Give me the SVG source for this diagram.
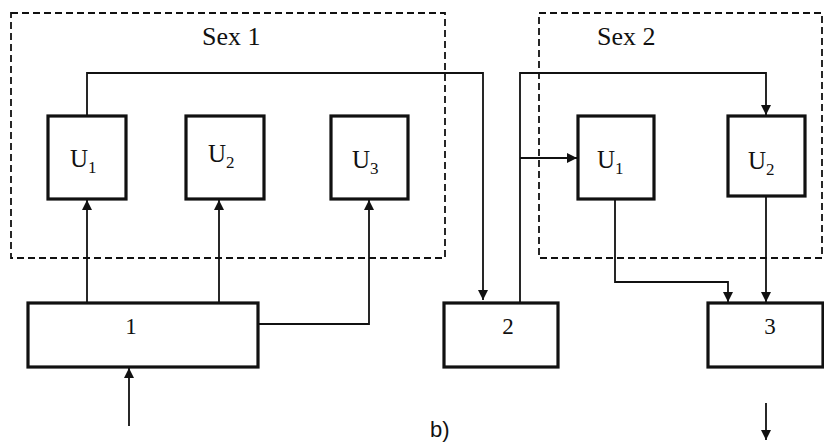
<svg xmlns="http://www.w3.org/2000/svg" width="824" height="445" viewBox="0 0 824 445">
<style>
.grp{fill:none;stroke:#111;stroke-width:1.8;stroke-dasharray:7,4}
.box{fill:#fff;stroke:#111;stroke-width:3.2}
.ln{fill:none;stroke:#111;stroke-width:1.8}
.t{font-family:"Liberation Serif","DejaVu Serif",serif;fill:#111}
.u{font-size:25px}
.s{font-size:17px}
.n{font-size:23px}
.g{font-size:26px}
</style>
<defs>
<marker id="ah" viewBox="0 0 10 10" refX="10" refY="5" markerWidth="11" markerHeight="10" markerUnits="userSpaceOnUse" orient="auto">
<path d="M0,0 L10,5 L0,10 z" fill="#111"/>
</marker>
</defs>
<rect width="824" height="445" fill="#fff"/>
<g id="sex1">
<rect class="grp" x="11" y="13" width="434" height="245"/>
<text class="t g" x="202" y="45">Sex 1</text>
</g>
<g id="sex2">
<rect class="grp" x="539" y="13" width="283" height="245"/>
<text class="t g" x="597" y="45">Sex 2</text>
</g>
<g id="connectors">
<path class="ln" d="M87,116 V73 H483 V300" marker-end="url(#ah)"/>
<path class="ln" d="M87,303 V200" marker-end="url(#ah)"/>
<path class="ln" d="M219,303 V200" marker-end="url(#ah)"/>
<path class="ln" d="M258,324 H369 V200" marker-end="url(#ah)"/>
<path class="ln" d="M129,426 V368" marker-end="url(#ah)"/>
<path class="ln" d="M520,303 V73 H766 V115" marker-end="url(#ah)"/>
<path class="ln" d="M520,158 H577" marker-end="url(#ah)"/>
<path class="ln" d="M615,199 V282 H728 V302" marker-end="url(#ah)"/>
<path class="ln" d="M766,196 V302" marker-end="url(#ah)"/>
<path class="ln" d="M766,403 V440" marker-end="url(#ah)"/>
</g>
<g id="s1u1">
<rect class="box" x="48" y="116" width="78" height="83"/>
<text class="t u" x="70" y="167">U<tspan class="s" dy="6">1</tspan></text>
</g>
<g id="s1u2">
<rect class="box" x="186" y="116" width="78" height="83"/>
<text class="t u" x="208" y="162">U<tspan class="s" dy="6">2</tspan></text>
</g>
<g id="s1u3">
<rect class="box" x="331" y="116" width="77" height="83"/>
<text class="t u" x="352" y="168">U<tspan class="s" dy="6">3</tspan></text>
</g>
<g id="s2u1">
<rect class="box" x="578" y="116" width="76" height="83"/>
<text class="t u" x="597" y="168">U<tspan class="s" dy="6">1</tspan></text>
</g>
<g id="s2u2">
<rect class="box" x="728" y="116" width="77" height="80"/>
<text class="t u" x="748" y="169">U<tspan class="s" dy="6">2</tspan></text>
</g>
<g id="b1">
<rect class="box" x="28" y="303" width="230" height="64"/>
<text class="t n" x="131" y="334" text-anchor="middle">1</text>
</g>
<g id="b2">
<rect class="box" x="444" y="303" width="114" height="64"/>
<text class="t n" x="508" y="334" text-anchor="middle">2</text>
</g>
<g id="b3">
<rect class="box" x="708" y="303" width="115" height="64"/>
<text class="t n" x="770" y="334" text-anchor="middle">3</text>
</g>
<text x="430" y="437" style="font-family:'Liberation Sans','DejaVu Sans',sans-serif;font-size:22px;fill:#111">b)</text>
</svg>
